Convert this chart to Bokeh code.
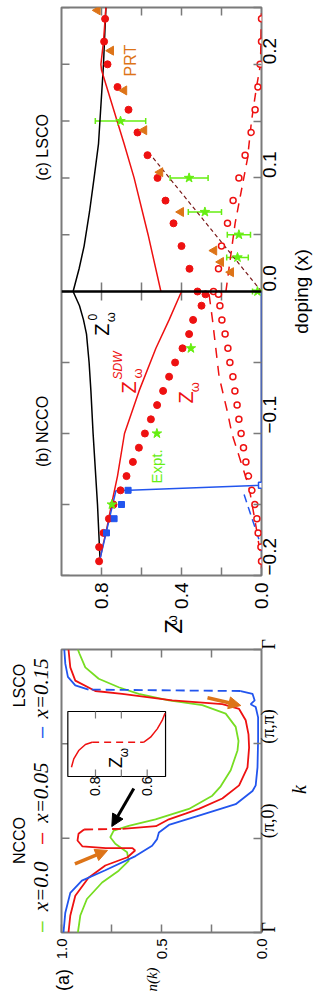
import math
from bokeh.plotting import figure
from bokeh.models import (Range1d, FixedTicker, CustomJSTickFormatter, PrintfTickFormatter,
                          Label, Span, Whisker, ColumnDataSource, Arrow, NormalHead, TeeHead)
from bokeh.layouts import column, row
from bokeh.embed import file_html
from bokeh.resources import INLINE

# ---------------- data: panel (c) LSCO ----------------
lsco_dop = [0.00, 0.02, 0.04, 0.06, 0.08, 0.10, 0.12, 0.14, 0.16, 0.18, 0.20, 0.22, 0.24]
lsco_zw = [0.32, 0.36, 0.40, 0.44, 0.48, 0.52, 0.57, 0.62, 0.665, 0.72, 0.77, 0.787, 0.782]
lsco_zopen = [0.24, 0.215, 0.20, 0.17, 0.142, 0.113, 0.082, 0.052, 0.032, 0.018, 0.007, 0.0, 0.0]
lsco_z0_dop = [0.0, 0.02, 0.04, 0.07, 0.10, 0.13, 0.20, 0.25]
lsco_z0 = [0.942, 0.912, 0.887, 0.86, 0.837, 0.815, 0.79, 0.778]
lsco_sdw_dop = [0.0, 0.05, 0.10, 0.13, 0.195, 0.20, 0.22, 0.25]
lsco_sdw = [0.503, 0.567, 0.637, 0.687, 0.80, 0.803, 0.79, 0.778]
lsco_dash_dop = [0.0, 0.06, 0.117, 0.15, 0.18, 0.20, 0.25]
lsco_dash = [0.178, 0.132, 0.07, 0.05, 0.025, 0.005, 0.0]
lsco_brown_dop = [0.0, 0.12]
lsco_brown = [0.0, 0.553]
prt_dop = [0.017, 0.026, 0.036, 0.070, 0.105, 0.142, 0.177, 0.212, 0.2475]
prt_z = [0.153, 0.203, 0.237, 0.403, 0.507, 0.587, 0.687, 0.753, 0.82]
expt_lsco_dop = [0.0, 0.03, 0.05, 0.07, 0.10, 0.15]
expt_lsco_z = [0.02, 0.12, 0.113, 0.283, 0.362, 0.705]
expt_lsco_err = [0.025, 0.054, 0.058, 0.083, 0.095, 0.126]

# ---------------- data: panel (b) NCCO ----------------
ncco_dop = [-0.002, -0.01, -0.02, -0.03, -0.04, -0.05, -0.06, -0.07, -0.08, -0.09, -0.10,
            -0.11, -0.12, -0.13, -0.14, -0.15, -0.16, -0.17, -0.18, -0.19]
ncco_zw = [0.28, 0.30, 0.342, 0.362, 0.395, 0.432, 0.462, 0.492, 0.522, 0.553, 0.583,
           0.613, 0.643, 0.675, 0.705, 0.74, 0.763, 0.79, 0.812, 0.812]
ncco_zopen = [0.215, 0.208, 0.198, 0.182, 0.168, 0.158, 0.143, 0.133, 0.122, 0.113, 0.102,
              0.09, 0.078, 0.065, 0.048, 0.033, 0.023, 0.017, 0.003, 0.0]
ncco_z0_dop = [0.0, -0.01, -0.02, -0.03, -0.05, -0.07, -0.10, -0.15, -0.19]
ncco_z0 = [0.942, 0.91, 0.89, 0.875, 0.862, 0.853, 0.842, 0.82, 0.807]
ncco_sdw_dop = [0.0, -0.02, -0.04, -0.07, -0.10, -0.13, -0.15, -0.17, -0.18, -0.19]
ncco_sdw = [0.40, 0.462, 0.528, 0.612, 0.685, 0.72, 0.75, 0.778, 0.795, 0.81]
ncco_dash_dop = [-0.002, -0.02, -0.06, -0.085, -0.10, -0.12, -0.138, -0.165, -0.19, -0.20]
ncco_dash = [0.262, 0.245, 0.212, 0.17, 0.148, 0.103, 0.062, 0.028, 0.0, 0.0]
ncco_blue_dop = [-0.19, -0.1403, -0.1365, 0.0]
ncco_blue = [0.81, 0.728, 0.0, 0.0]
ncco_bluedash_dop = [-0.143, -0.18, -0.19]
ncco_bluedash = [0.087, 0.0, 0.0]
ncco_sq_dop = [-0.14, -0.15, -0.16, -0.17]
ncco_sq = [0.667, 0.70, 0.737, 0.775]
ncco_sqopen_dop = [-0.1365]
ncco_sqopen = [0.0]
expt_ncco_dop = [-0.04, -0.10, -0.15]
expt_ncco_z = [0.353, 0.523, 0.748]

# ---------------- data: panel (a) n(k) ----------------
green_n = [0.918, 0.906, 0.873, 0.797, 0.714, 0.664, 0.672, 0.731, 0.756, 0.739, 0.664, 0.53, 0.363,
           0.246, 0.204, 0.154, 0.12, 0.115, 0.129, 0.179, 0.296, 0.463, 0.614, 0.714, 0.814, 0.881, 0.911, 0.918]
green_k = [0.0, 0.18, 0.355, 0.53, 0.655, 0.76, 0.85, 0.94, 1.01, 1.08, 1.13, 1.2, 1.31,
           1.45, 1.55, 1.72, 1.93, 2.03, 2.18, 2.32, 2.41, 2.46, 2.53, 2.6, 2.69, 2.81, 2.96, 3.0]
red1_n = [0.965, 0.956, 0.931, 0.865, 0.781, 0.67, 0.632, 0.645, 0.7785, 0.895, 0.92, 0.915, 0.887]
red1_k = [0.0, 0.18, 0.39, 0.58, 0.71, 0.798, 0.869, 0.894, 0.894, 0.912, 0.975, 1.046, 1.092]
red_jump_n = [0.887, 0.695]
red_jump_k = [1.092, 1.099]
red2_n = [0.695, 0.528, 0.463, 0.38, 0.313, 0.196, 0.112, 0.07, 0.062, 0.065, 0.079, 0.112, 0.196,
          0.446, 0.697, 0.831, 0.931, 0.956, 0.965]
red2_k = [1.099, 1.127, 1.2, 1.26, 1.31, 1.42, 1.56, 1.75, 1.96, 2.1, 2.25, 2.37, 2.42,
          2.46, 2.53, 2.56, 2.67, 2.81, 3.0]
blue1_n = [0.99, 0.981, 0.956, 0.898, 0.781, 0.63, 0.547, 0.522, 0.513, 0.463, 0.313, 0.129, 0.045,
           0.029, 0.02, 0.017, 0.017, 0.029, 0.054, 0.034, 0.045, 0.104]
blue1_k = [0.0, 0.21, 0.42, 0.55, 0.66, 0.81, 0.92, 0.99, 1.06, 1.14, 1.24, 1.36, 1.5,
           1.56, 1.75, 2.04, 2.28, 2.39, 2.42, 2.46, 2.53, 2.56]
blue_jump_n = [0.104, 0.865]
blue_jump_k = [2.56, 2.575]
blue2_n = [0.865, 0.931, 0.968, 0.981, 0.986]
blue2_k = [2.575, 2.62, 2.71, 2.85, 3.0]
k_tick_labels = ["Γ", "(π,0)", "(π,π)", "Γ"]

# inset: Z_w with a jump
inset_l_z = [0.893, 0.884, 0.865, 0.839, 0.813]
inset_l_v = [0.143, 0.272, 0.40, 0.492, 0.528]
inset_j_z = [0.813, 0.613]
inset_j_v = [0.528, 0.528]
inset_r_z = [0.613, 0.587, 0.561, 0.542, 0.531]
inset_r_v = [0.528, 0.605, 0.733, 0.862, 0.974]
inset_ticks = [0.8, 0.7, 0.6]
inset_tick_labels = {0.8: "0.8", 0.6: "0.6"}

# ---------------- style ----------------
RED = "#EE1111"
GREEN = "#77DD22"
STAR = "#66EE11"
BLUE = "#2255EE"
ORANGE = "#DD7418"
BROWN = "#7A1A1A"
GRAY = "#7A7A7A"
SANS = "Liberation Sans"
SERIF = "Liberation Serif"
VERT = math.pi / 2

PAGE_W = 314
LEFT_W = 61        # page left edge -> frame left edge
P_LEFT = 2         # part of LEFT_W that belongs to figure (b)/(c)
P_LEFT_A = 9       # part of LEFT_W that belongs to figure (a)
FRAME_W = 200
FRAME_H_BC = 568
FRAME_H_A = 283
TICK = 8           # inward tick length, px


def style_axis(ax, ticker, size="19px", font=SANS, standoff=8):
    ax.ticker = ticker
    ax.axis_line_color = None
    ax.major_tick_line_color = GRAY
    ax.minor_tick_line_color = GRAY
    ax.major_tick_line_width = 1.5
    ax.minor_tick_line_width = 1.5
    ax.major_tick_in = TICK
    ax.major_tick_out = 0
    ax.minor_tick_in = TICK
    ax.minor_tick_out = 0
    ax.major_label_standoff = standoff
    ax.major_label_text_font = font
    ax.major_label_text_font_size = size
    ax.major_label_orientation = VERT
    ax.major_label_text_color = "black"


def lab(p, x, y, text, size, color="black", font=SANS, style="normal", **kw):
    p.add_layout(Label(x=x, y=y, text=text, angle=VERT, text_align="center", text_baseline="middle",
                       text_font=font, text_font_size=size, text_color=color,
                       text_font_style=style, **kw))


def main_fig(frame_h, x_range, y_range, left, top, bottom, right):
    f = figure(frame_width=FRAME_W, frame_height=frame_h, x_range=x_range, y_range=y_range,
               x_axis_location="below", y_axis_location="right",
               min_border_left=left, min_border_right=right, min_border_top=top, min_border_bottom=bottom,
               output_backend="svg", toolbar_location=None, background_fill_color="white",
               border_fill_color="white", outline_line_color=GRAY, outline_line_width=2)
    f.grid.visible = False
    return f


def helper(w, h, x_range, y_range, top=0):
    f = figure(frame_width=w, frame_height=h, x_range=x_range, y_range=y_range, min_border=0,
               min_border_top=top, x_axis_location=None, y_axis_location=None,
               output_backend="svg", toolbar_location=None, outline_line_color=None,
               background_fill_color="white", border_fill_color="white")
    f.grid.visible = False
    return f


def edge_ticks(f, vals, horizontal_edge, edge, length):
    """inward ticks on the top or left frame edge, at the given tick values"""
    n = len(vals)
    if horizontal_edge:
        f.segment(x0=vals, y0=[edge] * n, x1=vals, y1=[edge - length] * n, line_color=GRAY, line_width=1.5)
    else:
        f.segment(x0=[edge] * n, y0=vals, x1=[edge - length] * n, y1=vals, line_color=GRAY, line_width=1.5)


# ================= panels (b) + (c) =================
z_range = Range1d(1.0, 0.0)
lsco_range = Range1d(-0.25, 0.25)
ncco_range = Range1d(-0.2, 0.2)
scale = (lsco_range.end - lsco_range.start) / (ncco_range.end - ncco_range.start)
zpx = (z_range.start - z_range.end) / FRAME_W              # Z units per pixel
dpx = (lsco_range.end - lsco_range.start) / FRAME_H_BC     # doping units per pixel

P_RIGHT = 30
p = main_fig(FRAME_H_BC, z_range, lsco_range, left=P_LEFT, top=7, bottom=40, right=P_RIGHT)
p.extra_y_ranges = {"ncco": ncco_range}

z_major = [0.0, 0.4, 0.8]
z_minor = [0.2, 0.6]
style_axis(p.xaxis[0], FixedTicker(ticks=z_major, minor_ticks=z_minor), standoff=7)
p.xaxis[0].formatter = PrintfTickFormatter(format="%.1f")

lsco_tick_vals = [0.0, 0.1, 0.2]
ncco_tick_vals = [-0.1, -0.2]
dop_major = lsco_tick_vals + [t * scale for t in ncco_tick_vals]
dop_minor = [0.05, 0.15, 0.25] + [t * scale for t in (-0.05, -0.15)]
style_axis(p.yaxis[0], FixedTicker(ticks=dop_major, minor_ticks=dop_minor), standoff=8)
p.yaxis[0].formatter = CustomJSTickFormatter(
    args=dict(s=scale),
    code="return tick < -1e-9 ? '\u2212' + (-tick / s).toFixed(1) : Math.abs(tick).toFixed(1);")

edge_ticks(p, [0.2, 0.4, 0.6, 0.8], True, lsco_range.end, TICK * dpx)
edge_ticks(p, dop_major + dop_minor, False, z_range.start, TICK * zpx)

# boundary between NCCO and LSCO
p.add_layout(Span(location=0, dimension="width", line_color="black", line_width=2.5))
mid_ticks = [0.2, 0.4, 0.6, 0.8]
h = 9 * dpx
p.segment(x0=mid_ticks, y0=[-h] * len(mid_ticks), x1=mid_ticks, y1=[h] * len(mid_ticks),
          line_color=GRAY, line_width=1.5)

# LSCO
p.line(lsco_z0, lsco_z0_dop, line_color="black", line_width=1.5)
p.line(lsco_sdw, lsco_sdw_dop, line_color=RED, line_width=1.5)
p.line(lsco_dash, lsco_dash_dop, line_color=RED, line_width=1.5, line_dash="9 7")
p.line(lsco_brown, lsco_brown_dop, line_color=BROWN, line_width=1.2, line_dash="4 3")
p.scatter(lsco_zw, lsco_dop, marker="circle", size=7, fill_color=RED, line_color=RED)
p.scatter(lsco_zopen, lsco_dop, marker="circle", size=6, fill_color="white", line_color=RED, line_width=1.5)
p.scatter(prt_z, prt_dop, marker="triangle", angle=VERT, size=9, fill_color=ORANGE, line_color=ORANGE)
src_e = ColumnDataSource(dict(d=expt_lsco_dop,
                              lo=[z - e for z, e in zip(expt_lsco_z, expt_lsco_err)],
                              hi=[z + e for z, e in zip(expt_lsco_z, expt_lsco_err)]))
p.add_layout(Whisker(source=src_e, base="d", lower="lo", upper="hi", dimension="width",
                     line_color=STAR, line_width=1.5,
                     upper_head=TeeHead(size=6, line_color=STAR, line_width=1.5),
                     lower_head=TeeHead(size=6, line_color=STAR, line_width=1.5)))
p.scatter(expt_lsco_z, expt_lsco_dop, marker="star", size=10, fill_color=STAR, line_color=STAR)

# NCCO
p.line(ncco_z0, ncco_z0_dop, line_color="black", line_width=1.5, y_range_name="ncco")
p.line(ncco_sdw, ncco_sdw_dop, line_color=RED, line_width=1.5, y_range_name="ncco")
p.line(ncco_dash, ncco_dash_dop, line_color=RED, line_width=1.5, line_dash="10 8", y_range_name="ncco")
p.line(ncco_blue, ncco_blue_dop, line_color=BLUE, line_width=1.5, y_range_name="ncco")
p.line(ncco_bluedash, ncco_bluedash_dop, line_color=BLUE, line_width=1.5, line_dash="8 5", y_range_name="ncco")
p.scatter(ncco_zw, ncco_dop, marker="circle", size=7, fill_color=RED, line_color=RED, y_range_name="ncco")
p.scatter(ncco_zopen, ncco_dop, marker="circle", size=6, fill_color="white", line_color=RED,
          line_width=1.5, y_range_name="ncco")
p.scatter(ncco_sq, ncco_sq_dop, marker="square", size=6, fill_color=BLUE, line_color=BLUE, y_range_name="ncco")
p.scatter(ncco_sqopen, ncco_sqopen_dop, marker="square", size=6, fill_color="white", line_color=BLUE,
          line_width=1.5, y_range_name="ncco")
p.scatter(expt_ncco_z, expt_ncco_dop, marker="star", size=10, fill_color=STAR, line_color=STAR, y_range_name="ncco")

# texts inside the frame
lab(p, 0.6535, 0.2033, "PRT", "16px", color=ORANGE)
lab(p, 0.7985, -0.0335, "Z", "20px")
lab(p, 0.8435, -0.0225, "0", "12px")
lab(p, 0.7535, -0.0225, "ω", "13px")
lab(p, 0.6635, -0.0845, "Z", "20px", color=RED)
lab(p, 0.6185, -0.0722, "ω", "13px", color=RED)
lab(p, 0.7185, -0.0651, "SDW", "12px", color=RED, style="italic")
lab(p, 0.3785, -0.0933, "Z", "20px", color=RED)
lab(p, 0.3335, -0.0843, "ω", "13px", color=RED)
lab(p, 0.5235, -0.154, "Expt.", "15px", color=STAR)

# left strip with panel titles (shares the doping scale)
left_bc = helper(LEFT_W - P_LEFT, FRAME_H_BC,
                 Range1d(z_range.start + LEFT_W * zpx, z_range.start + P_LEFT * zpx), lsco_range, top=7)
lab(left_bc, 1.096, 0.1268, "(c) LSCO", "16px")
lab(left_bc, 1.0935, -0.1232, "(b) NCCO", "16px")

# right strip with the doping axis title (shares the doping scale)
RS_BC = PAGE_W - LEFT_W - FRAME_W - P_RIGHT
right_bc = helper(RS_BC, FRAME_H_BC, Range1d(0, 1), lsco_range, top=7)
lab(right_bc, 0.45, 0.0, "doping (x)", "19px")

# strip under panels (b)/(c) with the Z_w axis title
RIGHT_W = PAGE_W - LEFT_W - FRAME_W
wide_z = Range1d(z_range.start + LEFT_W * zpx, z_range.end - RIGHT_W * zpx)
bot_bc = helper(PAGE_W, 20, wide_z, Range1d(0, 1))
lab(bot_bc, 0.4385, 0.45, "Z", "24px")
lab(bot_bc, 0.4485, 0.75, "ω", "14px")

# ================= panel (a) =================
n_range = Range1d(1.0, 0.0)
k_range = Range1d(0, 3)
npx = (n_range.start - n_range.end) / FRAME_W
kpx = (k_range.end - k_range.start) / FRAME_H_A
A_RIGHT = 28
pa = main_fig(FRAME_H_A, n_range, k_range, left=P_LEFT_A, top=14, bottom=34, right=A_RIGHT)
pa.extra_x_ranges = {"ix": Range1d(0.9315, 0.1578)}
pa.extra_y_ranges = {"iy": Range1d(-2.4, 1.954)}

style_axis(pa.xaxis[0], FixedTicker(ticks=[0.0, 0.5, 1.0], minor_ticks=[0.25, 0.75]), size="15px", standoff=6)
pa.xaxis[0].formatter = PrintfTickFormatter(format="%.1f")
style_axis(pa.yaxis[0], FixedTicker(ticks=[0, 1, 2, 3]), size="18px", font=SERIF, standoff=7)
pa.yaxis[0].formatter = CustomJSTickFormatter(args=dict(labels=k_tick_labels),
                                              code="return labels[Math.round(tick)];")
edge_ticks(pa, [0.25, 0.5, 0.75], True, k_range.end, TICK * kpx)
edge_ticks(pa, [1, 2], False, n_range.start, TICK * npx)

pa.line(green_n, green_k, line_color=GREEN, line_width=1.8)
pa.line(red1_n, red1_k, line_color=RED, line_width=1.8)
pa.line(red_jump_n, red_jump_k, line_color=RED, line_width=1.8, line_dash="9 5")
pa.line(red2_n, red2_k, line_color=RED, line_width=1.8)
pa.line(blue1_n, blue1_k, line_color=BLUE, line_width=1.8)
pa.line(blue_jump_n, blue_jump_k, line_color=BLUE, line_width=1.8, line_dash="9 5")
pa.line(blue2_n, blue2_k, line_color=BLUE, line_width=1.8)

# inset
inset_box = dict(left=0.907, right=0.529, bottom=0.0, top=1.0)
pa.quad(**inset_box, fill_color="white", line_color="black", line_width=1.2,
        x_range_name="ix", y_range_name="iy")
hi_ = 7 * (1.954 + 2.4) / FRAME_H_A
pa.segment(x0=inset_ticks, y0=[0.0] * 3, x1=inset_ticks, y1=[hi_] * 3, line_color=GRAY, line_width=1.2,
           x_range_name="ix", y_range_name="iy")
pa.segment(x0=inset_ticks[:2], y0=[1.0] * 2, x1=inset_ticks[:2], y1=[1.0 - hi_] * 2, line_color=GRAY,
           line_width=1.2, x_range_name="ix", y_range_name="iy")
pa.line(inset_l_z, inset_l_v, line_color=RED, line_width=1.5, x_range_name="ix", y_range_name="iy")
pa.line(inset_j_z, inset_j_v, line_color=RED, line_width=1.5, line_dash="7 5", x_range_name="ix", y_range_name="iy")
pa.line(inset_r_z, inset_r_v, line_color=RED, line_width=1.5, x_range_name="ix", y_range_name="iy")
for zt, txt in inset_tick_labels.items():
    lab(pa, zt, -0.15, txt, "14px", x_range_name="ix", y_range_name="iy")
lab(pa, 0.7188, 0.215, "Z", "18px", x_range_name="ix", y_range_name="iy")
lab(pa, 0.6878, 0.369, "ω", "12px", x_range_name="ix", y_range_name="iy")

# arrows
pa.add_layout(Arrow(x_start=0.6385, y_start=1.527, x_end=0.7485, y_end=1.124, line_color="black", line_width=3,
                    end=NormalHead(size=12, fill_color="black", line_color="black")))
pa.add_layout(Arrow(x_start=0.933, y_start=0.728, x_end=0.77, y_end=0.87, line_color=ORANGE, line_width=3.5,
                    end=NormalHead(size=12, fill_color=ORANGE, line_color=ORANGE)))
pa.add_layout(Arrow(x_start=0.27, y_start=2.488, x_end=0.1035, y_end=2.406, line_color=ORANGE, line_width=3.5,
                    end=NormalHead(size=12, fill_color=ORANGE, line_color=ORANGE)))

# left strip with the legend (shares the k scale)
left_a = helper(LEFT_W - P_LEFT_A, FRAME_H_A,
                Range1d(n_range.start + LEFT_W * npx, n_range.start + P_LEFT_A * npx), k_range, top=14)
lab(left_a, 1.2085, 0.975, "NCCO", "16px")
lab(left_a, 1.2085, 2.618, "LSCO", "16px")
lab(left_a, 1.1025, 0.06, "–", "20px", color=GREEN)
lab(left_a, 1.105, 0.488, "x=0.0", "21px", font=SERIF, style="italic")
lab(left_a, 1.1025, 0.997, "–", "20px", color=RED)
lab(left_a, 1.105, 1.484, "x=0.05", "21px", font=SERIF, style="italic")
lab(left_a, 1.1025, 2.12, "–", "20px", color=BLUE)
lab(left_a, 1.105, 2.587, "x=0.15", "21px", font=SERIF, style="italic")

# right strip with the k axis title (shares the k scale)
RS_A = PAGE_W - LEFT_W - FRAME_W - A_RIGHT
right_a = helper(RS_A, FRAME_H_A, Range1d(0, 1), k_range, top=14)
lab(right_a, 0.3, 1.516, "k", "20px", font=SERIF, style="italic")

# strip under panel (a)
wide_n = Range1d(n_range.start + LEFT_W * npx, n_range.end - RIGHT_W * npx)
bot_a = helper(PAGE_W, 26, wide_n, Range1d(0, 1))
lab(bot_a, 0.9935, 0.48, "(a)", "18px")
lab(bot_a, 0.5485, 0.5, "n(k)", "15px", font=SERIF, style="italic")

layout = column(row(left_bc, p, right_bc), bot_bc, row(left_a, pa, right_a), bot_a)
open("out.html", "w").write(file_html(layout, INLINE))
